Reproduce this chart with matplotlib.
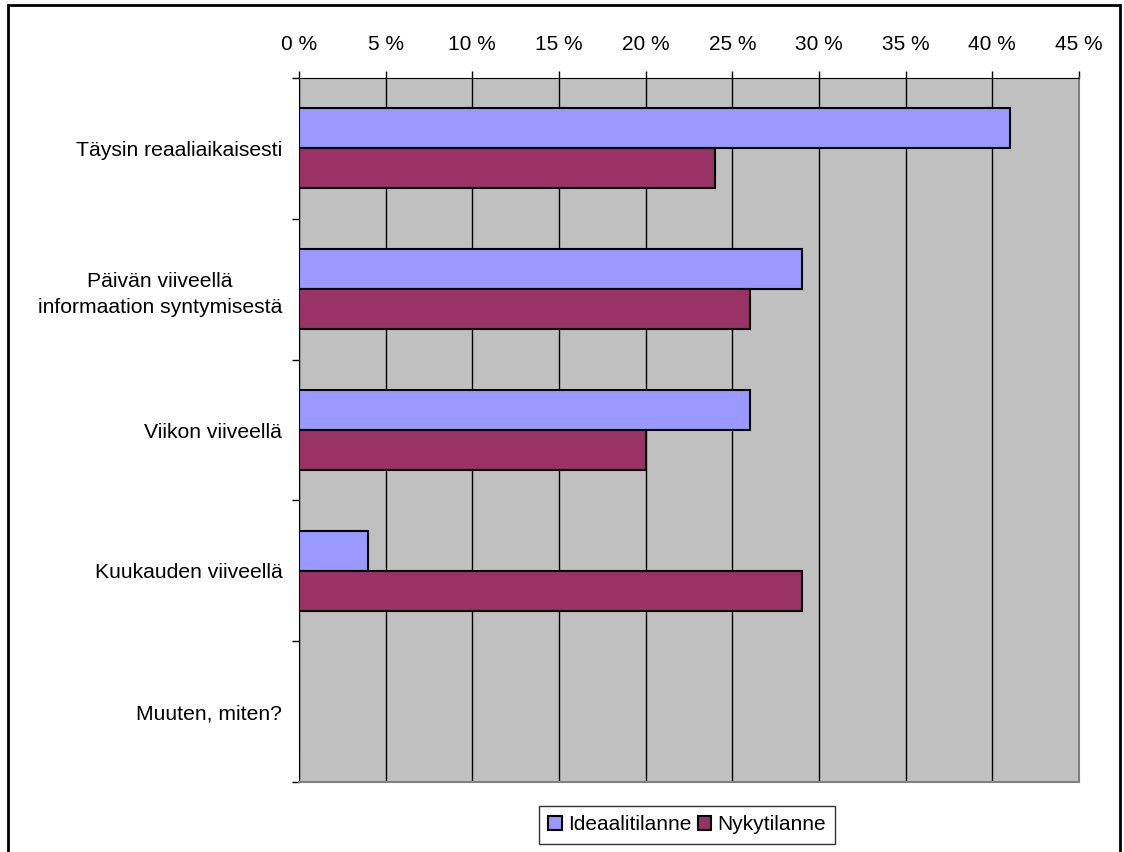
import numpy as np
import matplotlib.pyplot as plt
from matplotlib.patches import Rectangle

categories = ["Täysin reaaliaikaisesti",
              "Päivän viiveellä\ninformaation syntymisestä",
              "Viikon viiveellä",
              "Kuukauden viiveellä",
              "Muuten, miten?"]
ideaali = [41, 29, 26, 4, 0]
nyky = [24, 26, 20, 29, 0]
xticks = [0, 5, 10, 15, 20, 25, 30, 35, 40, 45]

plt.rcParams['font.family'] = ['Liberation Sans', 'DejaVu Sans']

fig = plt.figure(figsize=(11.24, 8.52), dpi=100)
ax = fig.add_axes([299 / 1124, 1 - 782 / 852, 780 / 1124, 704 / 852])

y = np.arange(len(categories))
h = 0.284
ax.barh(y - h / 2, ideaali, height=h, color="#9999FF", edgecolor="black",
        linewidth=1.5, label="Ideaalitilanne", zorder=3)
ax.barh(y + h / 2, nyky, height=h, color="#993366", edgecolor="black",
        linewidth=1.5, label="Nykytilanne", zorder=3)

ax.set_facecolor("#C0C0C0")
ax.set_xlim(0, 45)
ax.set_ylim(len(categories) - 0.5, -0.5)

ax.xaxis.tick_top()
ax.set_xticks(xticks)
ax.set_xticklabels([f"{t} %" for t in xticks], fontsize=15)
ax.tick_params(axis="x", direction="out", length=5, pad=12, width=1)
ax.grid(axis="x", color="black", linewidth=1, zorder=1)

ax.set_yticks(y)
ax.set_yticklabels(categories, fontsize=15.2, multialignment="center",
                   linespacing=1.45)
ax.set_yticks(np.arange(len(categories) + 1) - 0.5, minor=True)
ax.tick_params(axis="y", which="major", length=0, pad=12)
ax.tick_params(axis="y", which="minor", direction="out", length=5, width=1)

for side in ["bottom", "right"]:
    ax.spines[side].set_color("#808080")
    ax.spines[side].set_linewidth(1.5)
ax.spines["top"].set_color("black")
ax.spines["left"].set_color("black")

leg = fig.legend(loc="center", bbox_to_anchor=(687 / 1124, 1 - 825 / 852),
                 ncol=2, fontsize=15, frameon=True, fancybox=False,
                 edgecolor="black", handlelength=0.65, handleheight=0.65,
                 handletextpad=0.3, columnspacing=0.3, borderpad=0.45)
leg.get_frame().set_linewidth(1)

fig.patches.append(Rectangle((8 / 1124, -0.01), 1112 / 1124, 1 - 5 / 852 + 0.01,
                             transform=fig.transFigure, fill=False,
                             edgecolor="black", linewidth=2))

fig.savefig("out.png", dpi=100)
